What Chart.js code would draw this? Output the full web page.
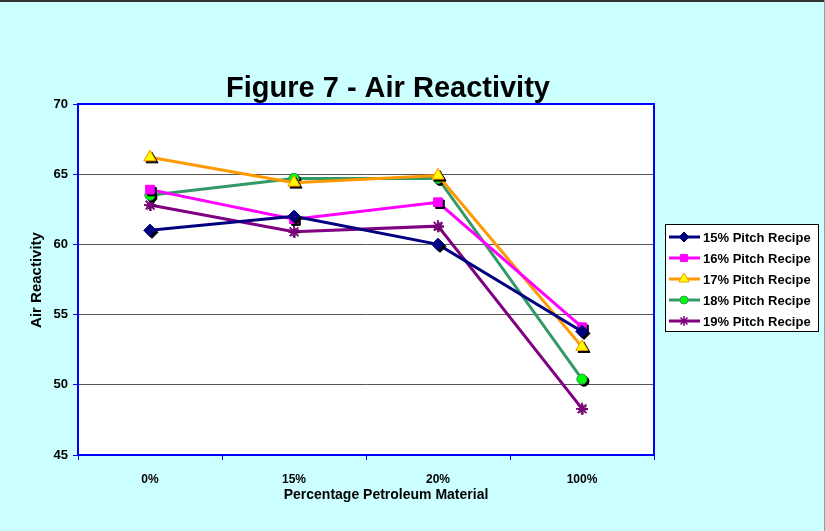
<!DOCTYPE html>
<html>
<head>
<meta charset="utf-8">
<script src="https://cdn.jsdelivr.net/npm/chart.js@4/dist/chart.umd.min.js"></script>
<style>
  html, body { margin: 0; padding: 0; background: #ccffff; }
  #wrap { width: 825px; height: 531px; position: relative; }
  #wrap:before { content: ''; position: absolute; left: 0; right: 0; top: 0; height: 2px; background: #333; }
  #wrap:after { content: ''; position: absolute; top: 0; bottom: 0; right: 0; width: 1px; background: #999; }
</style>
</head>
<body>
<div id="wrap"><canvas id="chart" width="825" height="531"></canvas></div>
<script>
const categories = ['0%', '15%', '20%', '100%'];
const seriesNames = ['15% Pitch Recipe', '16% Pitch Recipe', '17% Pitch Recipe', '18% Pitch Recipe', '19% Pitch Recipe'];
const pitch15 = [61.0, 62.0, 60.0, 53.8];
const pitch16 = [63.9, 61.8, 63.0, 54.1];
const pitch17 = [66.2, 64.4, 64.9, 52.7];
const pitch18 = [63.5, 64.7, 64.7, 50.4];
const pitch19 = [62.8, 60.9, 61.3, 48.3];
const yTicks = [45, 50, 55, 60, 65, 70];

const chartTitle = 'Figure 7 - Air Reactivity';
const xTitle = 'Percentage Petroleum Material';
const yTitle = 'Air Reactivity';

const styles = [
    { line: '#000080', fill: '#000080', shape: 'rectRot', r: 6, shadow: true },
    { line: '#ff00ff', fill: '#ff00ff', shape: 'rect', r: 6, shadow: true },
    { line: '#ff9900', fill: '#ffff00', shape: 'triangle', r: 7, shadow: true },
    { line: '#339966', fill: '#00ff00', shape: 'circle', r: 5, shadow: true },
    { line: '#800080', fill: '#800080', shape: 'star', r: 6, shadow: false }
];
const values = [pitch15, pitch16, pitch17, pitch18, pitch19];

const datasets = values.map((v, i) => ({
    label: seriesNames[i],
    data: v,
    borderColor: styles[i].line,
    backgroundColor: styles[i].fill,
    pointBackgroundColor: styles[i].fill,
    pointBorderColor: styles[i].shape === 'triangle' ? '#ff9900' : styles[i].line,
    pointBorderWidth: styles[i].shape === 'star' ? 1.5 : 1,
    pointStyle: styles[i].shape,
    pointRadius: styles[i].r,
    borderWidth: 3,
    tension: 0
}));

const FONT = '"Liberation Sans", Arial, sans-serif';

// white plot area + blue frame
const plotFrame = {
    id: 'plotFrame',
    beforeDraw(chart) {
        const a = chart.chartArea, ctx = chart.ctx;
        ctx.save();
        ctx.fillStyle = '#ffffff';
        ctx.fillRect(a.left, a.top, a.right - a.left, a.bottom - a.top);
        ctx.restore();
    },
    afterDraw(chart) {
        const a = chart.chartArea, ctx = chart.ctx;
        ctx.save();
        ctx.strokeStyle = '#0000ff';
        ctx.lineWidth = 2;
        ctx.strokeRect(a.left, a.top, a.right - a.left, a.bottom - a.top);
        ctx.restore();
    }
};

// markers get a small black shadow, like the excel original
const markerShadow = {
    id: 'markerShadow',
    afterDatasetDraw(chart, args) {
        const ctx = chart.ctx;
        const ds = chart.data.datasets[args.index];
        const st = styles[args.index];
        ctx.save();
        args.meta.data.forEach(pt => {
            ctx.fillStyle = '#000000';
            ctx.strokeStyle = '#000000';
            ctx.lineWidth = st.shadow ? ds.pointBorderWidth : 1;
            Chart.helpers.drawPoint(ctx, {
                pointStyle: ds.pointStyle, radius: st.shadow ? ds.pointRadius : ds.pointRadius - 1,
                borderWidth: ctx.lineWidth, rotation: 0
            }, pt.x + (st.shadow ? 2 : 1), pt.y + (st.shadow ? 2 : 1));
            pt.draw(ctx, chart.chartArea);
        });
        ctx.restore();
    }
};

// titles placed where the original has them
const titles = {
    id: 'titles',
    afterDraw(chart) {
        const ctx = chart.ctx;
        ctx.save();
        ctx.fillStyle = '#000000';
        ctx.textAlign = 'center';
        ctx.textBaseline = 'alphabetic';
        ctx.font = 'bold 29px ' + FONT;
        ctx.fillText(chartTitle, 388, 97);
        ctx.font = 'bold 14px ' + FONT;
        ctx.fillText(xTitle, 386, 499);
        ctx.translate(41, 280);
        ctx.rotate(-Math.PI / 2);
        ctx.font = 'bold 15px ' + FONT;
        ctx.fillText(yTitle, 0, 0);
        ctx.restore();
    }
};

// boxed legend on the right
const boxLegend = {
    id: 'boxLegend',
    afterDraw(chart) {
        const ctx = chart.ctx;
        const x = 665, y = 224, w = 153, h = 107;
        ctx.save();
        ctx.fillStyle = '#ffffff';
        ctx.fillRect(x, y, w, h);
        ctx.strokeStyle = '#000000';
        ctx.lineWidth = 1;
        ctx.strokeRect(x + 0.5, y + 0.5, w, h);
        chart.data.datasets.forEach((ds, i) => {
            const ly = y + 13 + i * 21;
            ctx.strokeStyle = ds.borderColor;
            ctx.lineWidth = 3;
            ctx.beginPath();
            ctx.moveTo(x + 4, ly);
            ctx.lineTo(x + 35, ly);
            ctx.stroke();
            ctx.fillStyle = ds.pointBackgroundColor;
            ctx.strokeStyle = ds.pointBorderColor;
            ctx.lineWidth = ds.pointBorderWidth;
            Chart.helpers.drawPoint(ctx, {
                pointStyle: ds.pointStyle, radius: ds.pointRadius - 1, borderWidth: ds.pointBorderWidth, rotation: 0
            }, x + 19, ly);
            ctx.fillStyle = '#000000';
            ctx.font = 'bold 13px ' + FONT;
            ctx.textAlign = 'left';
            ctx.textBaseline = 'middle';
            ctx.fillText(ds.label, x + 38, ly + 1);
        });
        ctx.restore();
    }
};

Chart.defaults.font.family = FONT;
Chart.defaults.color = '#000000';

new Chart(document.getElementById('chart'), {
    type: 'line',
    data: { labels: categories, datasets: datasets },
    options: {
        responsive: false,
        animation: false,
        layout: { padding: { left: 0, right: 171, top: 104, bottom: 0 } },
        plugins: {
            legend: { display: false },
            tooltip: { enabled: false },
            title: { display: false }
        },
        scales: {
            x: {
                offset: true,
                grid: { offset: true, drawOnChartArea: false, tickLength: 5, tickColor: '#0000ff' },
                border: { color: '#0000ff', width: 2 },
                ticks: { font: { size: 12, weight: 'bold' }, padding: 12, maxRotation: 0 },
                afterFit(scale) { scale.height = 76; }
            },
            y: {
                min: 45,
                max: 70,
                afterBuildTicks(scale) { scale.ticks = yTicks.map(v => ({ value: v })); },
                grid: { color: '#555555', tickLength: 5, tickColor: '#0000ff' },
                border: { color: '#0000ff', width: 2 },
                ticks: { font: { size: 13, weight: 'bold' }, padding: 5 },
                afterFit(scale) { scale.width = 78; }
            }
        }
    },
    plugins: [plotFrame, markerShadow, titles, boxLegend]
});
</script>
</body>
</html>
